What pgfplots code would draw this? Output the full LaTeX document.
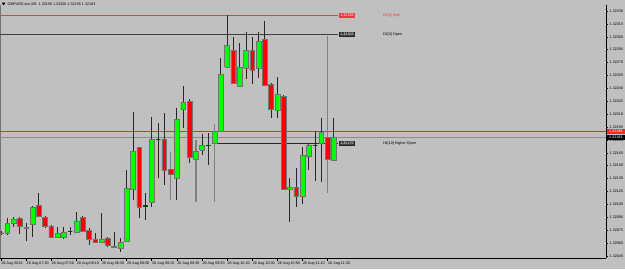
\documentclass[border=0pt]{standalone}
\usepackage{fontspec}
\setmainfont{Liberation Sans}
\usepackage{pgfplots}
\pgfplotsset{compat=1.18}
\definecolor{bg}{HTML}{C0C0C0}
\definecolor{bull}{HTML}{00FF00}
\definecolor{bear}{HTML}{FF0000}
\definecolor{askred}{HTML}{F02828}
\definecolor{hired}{HTML}{E83C3C}
\newcommand\tf{\fontsize{3.7pt}{4pt}\selectfont}
% price 1.32xyz -> offset 0.xyz (hundredths above 1.32000), kept exact
\def\P#1{\Pstrip#1\relax}
\def\Pstrip1.32#1\relax{0.#1}
\pgfplotsset{
  bu/.style={draw=black!55, fill=bull, line width=0.4pt},
  be/.style={draw=black!55, fill=bear, line width=0.4pt},
  dj/.style={draw=black!70!green, fill=black!70!green, line width=0.9pt},
  wk/.style={draw=black!85, line width=0.75pt},
  gw/.style={draw=black!50, line width=1.7pt},
}
% style, wick style, index, open, high, low, close
\newcommand\candle[7]{%
  \pgfmathsetmacro\xa{#3-0.38}\pgfmathsetmacro\xb{#3+0.38}%
  \edef\temp{\noexpand\addplot[#2] coordinates {(#3,\P{#6}) (#3,\P{#5})};
    \noexpand\addplot[#1] coordinates {(\xa,\P{#4}) (\xb,\P{#4}) (\xb,\P{#7}) (\xa,\P{#7}) (\xa,\P{#4})};}%
  \temp}
\newcommand\seg[5]{%
  \edef\temp{\noexpand\addplot[#1] coordinates {(#2,\P{#3}) (#4,\P{#5})};}\temp}
\begin{document}
\begin{tikzpicture}
\useasboundingbox (0,0) rectangle (625pt,269pt);
\fill[bg] (0,0) rectangle (625pt,269pt);
\draw[black!55, line width=0.8pt] (0.6pt,11pt) -- (0.6pt,264pt);
\fill[black] (1.8pt,266.3pt) -- (5.4pt,266.3pt) -- (3.6pt,263.6pt) -- cycle;
\node[font=\tf, anchor=west, inner sep=0pt] at (7.5pt,265pt) {GBPUSD-ecn,M5\ \ 1.32156 1.32206 1.32155 1.32183};
\begin{axis}[
  at={(0pt,11pt)}, anchor=south west, scale only axis,
  width=606pt, height=253pt,
  xmin=-0.16, xmax=96.34, ymin=0.0426, ymax=0.337,
  axis x line*=bottom, axis y line*=right,
  axis line style={-, black, line width=0.8pt},
  clip mode=individual,
  tick align=outside, major tick length=2.5pt,
  tick style={black, line width=0.5pt},
  xtick={0,4,...,52},
  xticklabels={26 Aug 2016,26 Aug 07:30,26 Aug 07:50,26 Aug 08:10,26 Aug 08:30,26 Aug 08:50,26 Aug 09:10,26 Aug 09:30,26 Aug 09:50,26 Aug 10:10,26 Aug 10:30,26 Aug 10:50,26 Aug 11:10,26 Aug 11:30},
  ytick={0.045,0.06,0.075,0.09,0.105,0.12,0.135,0.15,0.165,0.18,0.195,0.21,0.225,0.24,0.255,0.27,0.285,0.30,0.315,0.33},
  yticklabels={1.32045,1.32060,1.32075,1.32090,1.32105,1.32120,1.32135,1.32150,1.32165,1.32180,1.32195,1.32210,1.32225,1.32240,1.32255,1.32270,1.32285,1.32300,1.32315,1.32330},
  ticklabel style={font=\tf, text=black},
  xticklabel style={anchor=north west, inner sep=0.8pt, xshift=-0.4pt},
  yticklabel style={anchor=west, inner sep=1pt},
]
% horizontal level lines
\seg{draw=black!45, line width=1.2pt}{-1}{1.32183}{97}{1.32183}
\seg{draw=askred, line width=0.7pt}{-1}{1.32190}{97}{1.32190}
\seg{draw=hired, line width=0.7pt}{-1}{1.32325}{53.66}{1.32325}
\seg{draw=black!75, line width=0.7pt}{-1}{1.32303}{53.66}{1.32303}
\seg{draw=black!85, line width=0.7pt}{34}{1.32176}{53.66}{1.32176}
% candles: index, open, high, low, close
\candle{be}{wk}{0}{1.32072}{1.32074}{1.32069}{1.32071}
\candle{bu}{wk}{1}{1.32072}{1.32089}{1.32069}{1.32083}
\candle{bu}{wk}{2}{1.32083}{1.32090}{1.32079}{1.32088}
\candle{be}{wk}{3}{1.32089}{1.32090}{1.32071}{1.32080}
\candle{be}{wk}{4}{1.32078}{1.32083}{1.32062}{1.32077}
\candle{bu}{wk}{5}{1.32082}{1.32103}{1.32067}{1.32102}
\candle{be}{wk}{6}{1.32104}{1.32118}{1.32090}{1.32091}
\candle{be}{wk}{7}{1.32090}{1.32091}{1.32078}{1.32080}
\candle{be}{wk}{8}{1.32080}{1.32081}{1.32066}{1.32067}
\candle{bu}{wk}{9}{1.32067}{1.32079}{1.32066}{1.32071}
\candle{bu}{wk}{10}{1.32067}{1.32079}{1.32065}{1.32073}
\candle{dj}{wk}{11}{1.32073}{1.32079}{1.32069}{1.32073}
\candle{bu}{wk}{12}{1.32073}{1.32096}{1.32072}{1.32086}
\candle{be}{wk}{13}{1.32090}{1.32091}{1.32073}{1.32074}
\candle{be}{wk}{14}{1.32075}{1.32078}{1.32058}{1.32064}
\candle{be}{wk}{15}{1.32065}{1.32072}{1.32060}{1.32061}
\candle{bu}{wk}{16}{1.32061}{1.32095}{1.32060}{1.32065}
\candle{be}{wk}{17}{1.32066}{1.32067}{1.32055}{1.32057}
\candle{be}{wk}{18}{1.32056}{1.32073}{1.32054}{1.32055}
\candle{bu}{wk}{19}{1.32054}{1.32066}{1.32050}{1.32061}
\candle{bu}{wk}{20}{1.32062}{1.32145}{1.32061}{1.32124}
\candle{bu}{wk}{21}{1.32123}{1.32212}{1.32110}{1.32167}
\candle{be}{wk}{22}{1.32171}{1.32172}{1.32089}{1.32102}
\candle{dj}{wk}{23}{1.32103}{1.32118}{1.32087}{1.32104}
\candle{bu}{wk}{24}{1.32107}{1.32207}{1.32102}{1.32181}
\candle{dj}{wk}{25}{1.32181}{1.32200}{1.32136}{1.32181}
\candle{be}{wk}{26}{1.32181}{1.32211}{1.32128}{1.32145}
\candle{be}{gw}{27}{1.32146}{1.32166}{1.32110}{1.32140}
\candle{bu}{wk}{28}{1.32136}{1.32217}{1.32110}{1.32204}
\candle{bu}{wk}{29}{1.32216}{1.32243}{1.32194}{1.32224}
\candle{be}{wk}{30}{1.32225}{1.32228}{1.32153}{1.32160}
\candle{bu}{gw}{31}{1.32158}{1.32180}{1.32108}{1.32167}
\candle{bu}{wk}{32}{1.32168}{1.32187}{1.32162}{1.32174}
\candle{dj}{wk}{33}{1.32174}{1.32188}{1.32151}{1.32174}
\candle{bu}{gw}{34}{1.32176}{1.32199}{1.32108}{1.32190}
\candle{bu}{wk}{35}{1.32190}{1.32275}{1.32189}{1.32256}
\candle{bu}{wk}{36}{1.32265}{1.32325}{1.32264}{1.32290}
\candle{be}{wk}{37}{1.32284}{1.32300}{1.32245}{1.32246}
\candle{bu}{wk}{38}{1.32243}{1.32293}{1.32242}{1.32265}
\candle{bu}{wk}{39}{1.32264}{1.32306}{1.32251}{1.32284}
\candle{be}{wk}{40}{1.32284}{1.32300}{1.32245}{1.32261}
\candle{bu}{wk}{41}{1.32264}{1.32306}{1.32252}{1.32295}
\candle{be}{wk}{42}{1.32297}{1.32318}{1.32243}{1.32244}
\candle{be}{wk}{43}{1.32245}{1.32246}{1.32206}{1.32216}
\candle{bu}{wk}{44}{1.32215}{1.32253}{1.32206}{1.32233}
\candle{be}{wk}{45}{1.32231}{1.32232}{1.32122}{1.32123}
\candle{bu}{wk}{46}{1.32123}{1.32136}{1.32085}{1.32125}
\candle{be}{wk}{47}{1.32125}{1.32147}{1.32102}{1.32115}
\candle{bu}{wk}{48}{1.32115}{1.32172}{1.32105}{1.32162}
\candle{bu}{wk}{49}{1.32161}{1.32176}{1.32145}{1.32174}
\candle{dj}{wk}{50}{1.32173}{1.32190}{1.32132}{1.32173}
\candle{bu}{wk}{51}{1.32176}{1.32206}{1.32131}{1.32189}
\candle{be}{gw}{52}{1.32183}{1.32301}{1.32118}{1.32158}
\candle{bu}{wk}{53}{1.32156}{1.32206}{1.32155}{1.32183}
% level labels
\node[fill=hired, draw=hired, text=white, font=\tf, inner sep=0.7pt] at (axis cs:55.1,0.325) {1.32325};
\node[fill=black!75, draw=black!85, text=white, font=\tf, inner sep=0.7pt] at (axis cs:55.1,0.303) {1.32303};
\node[fill=black!75, draw=black!85, text=white, font=\tf, inner sep=0.7pt] at (axis cs:55.1,0.176) {1.32176};
\node[text=hired, font=\tf, anchor=west, inner sep=0pt] at (axis cs:60.8,0.325) {D1[0] High};
\node[text=black, font=\tf, anchor=west, inner sep=0pt] at (axis cs:60.8,0.303) {D1[0] Open};
\node[text=black, font=\tf, anchor=west, inner sep=0pt] at (axis cs:60.8,0.176) {H1[10] Higher Open};
% price labels on the scale
\node[fill=askred, text=white, font=\tf, inner sep=0.6pt, anchor=west, minimum width=18pt, minimum height=5.6pt, xshift=0.6pt] at (axis cs:96.34,0.190) {1.32190};
\node[fill=black, text=white, font=\tf, inner sep=0.6pt, anchor=west, minimum width=18pt, minimum height=5.6pt, xshift=0.6pt] at (axis cs:96.34,0.183) {1.32183};
\end{axis}
\end{tikzpicture}
\end{document}
